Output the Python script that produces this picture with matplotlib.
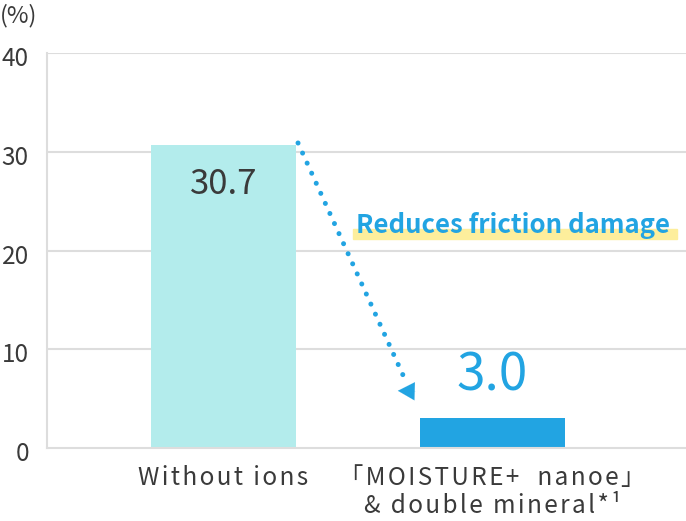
import matplotlib
matplotlib.use("Agg")
import matplotlib.pyplot as plt
import matplotlib.transforms as mtrans
import numpy as np

# 字体设置
plt.rcParams['font.family'] = ['Noto Sans CJK JP', 'DejaVu Sans']

# 数据
categories = ["Without ions", "「MOISTURE+  nanoe」\n& double mineral*¹"]
values = [30.7, 3.0]
value_labels = ["30.7", "3.0"]
yticks = [0, 10, 20, 30, 40]
note = "Reduces friction damage"

light = "#b3ecec"
blue = "#22a4e2"
grid_c = "#dddddd"
text_c = "#3a3a3a"


def spaced(s):
    # 字间距：字符之间插入 hair space
    return "\n".join("\u200a".join(line) for line in s.split("\n"))


fig = plt.figure(figsize=(6.86, 5.21), dpi=100)
ax = fig.add_axes([0.0685, 0.140, 0.9315, 0.758])

x = np.arange(len(categories))
bw = 0.54
ax.bar(x, values, width=bw, color=[light, blue], zorder=2)

ax.set_xlim(-0.656, 1.719)
ax.set_ylim(0, 40)

# 网格线
for yv in yticks[1:]:
    ax.axhline(yv, color=grid_c, lw=1.5, zorder=1)
for s in ["top", "right"]:
    ax.spines[s].set_visible(False)
ax.spines["left"].set_color(grid_c)
ax.spines["left"].set_linewidth(1.5)
ax.spines["bottom"].set_color(grid_c)
ax.spines["bottom"].set_linewidth(1.5)
ax.spines["bottom"].set_zorder(3)

ax.set_yticks(yticks)
ax.set_yticklabels([str(v) for v in yticks], fontsize=17.5, color=text_c)
ax.tick_params(axis="y", length=0, pad=13)
offset = mtrans.ScaledTranslation(0, -3 / 100, fig.dpi_scale_trans)
for lab in ax.get_yticklabels():
    lab.set_transform(lab.get_transform() + offset)
ax.set_xticks(x)
ax.set_xticklabels([spaced(c) for c in categories], fontsize=17.5, color=text_c,
                   linespacing=1.1)
ax.tick_params(axis="x", length=0, pad=12)

fig.text(0.0, 0.992, "(%)", fontsize=17, color=text_c, va="top", ha="left")

# 数值标签
ax.text(x[0], values[0] - 4, value_labels[0], ha="center", va="center",
        fontsize=25, color=text_c)
ax.text(x[1], values[1] + 4.3, value_labels[1], ha="center", va="center",
        fontsize=37, color=blue)

# 虚线箭头
left2 = x[1] - bw / 2
x0, y0 = x[0] + bw / 2 + 0.007, values[0] + 0.2
x1, y1 = left2 - 0.063, 7.4
ax.plot([x0, x1], [y0, y1], color=blue, lw=3.6, linestyle=(0, (0.01, 2.2)),
        dash_capstyle="round", zorder=4, clip_on=False)
ax.annotate("", xy=(left2 - 0.082, 5.8), xytext=(left2 - 0.016, 5.75),
            arrowprops=dict(arrowstyle="-|>,head_length=1.2,head_width=0.65",
                            color=blue, lw=0.1, shrinkA=0, shrinkB=0))

# 注释文字与黄色底纹
ax.axhspan(21.2, 22.2, xmin=0.479, xmax=0.986, color="#fdee9c", zorder=2)
ax.text(1.076, 22.5, note, ha="center", va="center",
        fontsize=18.5, fontweight="bold", color=blue, zorder=3)

fig.savefig("out.png", dpi=100)
